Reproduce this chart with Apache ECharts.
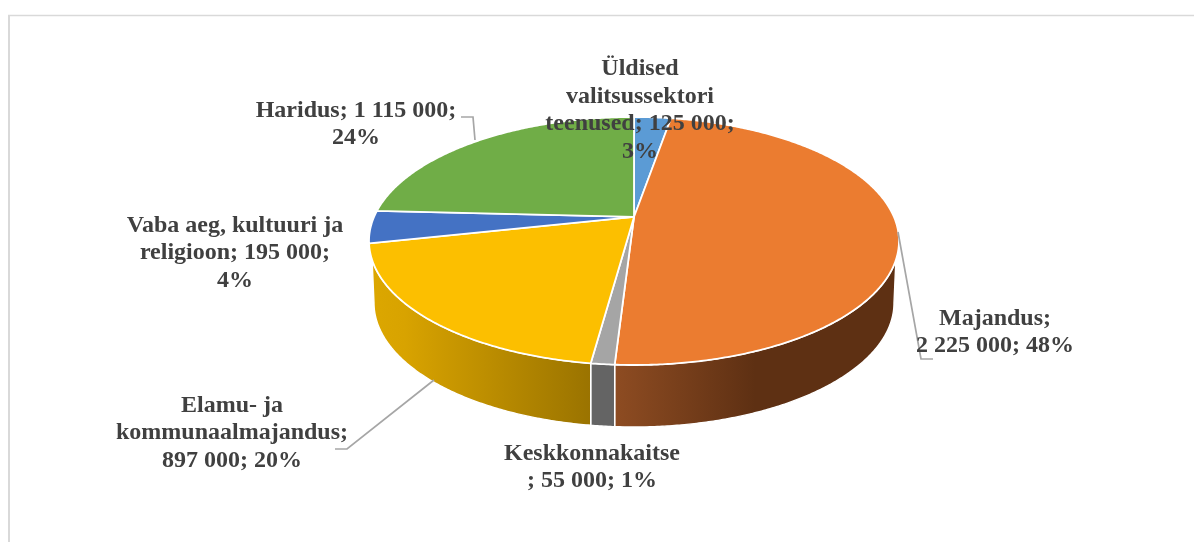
<!DOCTYPE html>
<html>
<head>
<meta charset="utf-8">
<style>html,body{margin:0;padding:0;background:#fff;overflow:hidden}#chart{width:1194px;height:543px}</style>
<script src="https://cdn.jsdelivr.net/npm/echarts@6/dist/echarts.min.js"></script>
</head>
<body>
<div id="chart"></div>
<script>
const categories = ['Üldised valitsussektori teenused','Majandus','Keskkonnakaitse','Elamu- ja kommunaalmajandus','Vaba aeg, kultuuri ja religioon','Haridus'];
const values = [125000, 2225000, 55000, 897000, 195000, 1115000];
const labelTexts = [
  'Üldised\nvalitsussektori\nteenused; 125 000;\n3%',
  'Majandus;\n2 225 000; 48%',
  'Keskkonnakaitse\n; 55 000; 1%',
  'Elamu- ja\nkommunaalmajandus;\n897 000; 20%',
  'Vaba aeg, kultuuri ja\nreligioon; 195 000;\n4%',
  'Haridus; 1 115 000;\n24%'
];
const faceColors = ['#5B9BD5','#EB7C30','#A5A5A5','#FCBF00','#4472C4','#70AD47'];
const wallStops = [
  null,
  [[0,'#8E4C22'],[0.5,'#5E3013'],[1,'#5E3013']],
  [[0,'#646464'],[1,'#646464']],
  [[0,'#DCA700'],[0.15,'#D8A300'],[1,'#9A7300']],
  null,
  null
];
const labelAnchors = [[640,110.5],[995,332.5],[592,467.5],[232,433],[235,253],[356,124.5]];
const leaderLines = [
  null,
  [[898,232],[921,359],[933,359]],
  null,
  [[434,380],[347,449],[335,449]],
  null,
  [[461,117],[473,117],[475,140]]
];

const geom = {cx:634, cy:241, rx:265, ry:124, a:0.194, bottomCy:303, bottomRx:260, bottomRy:124, clip:98.8};
const total = values.reduce((s,v)=>s+v,0);
const rad = Math.PI/180;

// Perspective view of a circle: slice angle -> point on the projected rim
function rim(theta){
  const u=Math.sin(theta), v=Math.cos(theta), d=1+geom.a*v;
  return [u*Math.sqrt(1-geom.a*geom.a)/d, (v+geom.a)/d];
}
function topPoint(theta){
  const r=rim(theta);
  return [geom.cx+geom.rx*r[0], geom.cy-geom.ry*r[1]];
}
function phiOf(theta){
  const r=rim(theta);
  let p=Math.atan2(r[0],r[1]);
  if(p<0)p+=2*Math.PI;
  return p;
}
function sliceRange(i){
  let s=0;
  for(let k=0;k<i;k++)s+=values[k];
  return [s/total*2*Math.PI,(s+values[i])/total*2*Math.PI];
}
function facePoints(i){
  const [a,b]=sliceRange(i);
  const pts=[[geom.cx,geom.cy-geom.ry*geom.a]];
  const n=Math.max(6,Math.ceil((b-a)/(0.5*rad)));
  for(let k=0;k<=n;k++)pts.push(topPoint(a+(b-a)*k/n));
  return pts;
}
function wallPoints(i){
  const [a,b]=sliceRange(i);
  const p0=phiOf(a), p1=b>=2*Math.PI-1e-6?2*Math.PI:phiOf(b);
  const lo=geom.clip*rad, hi=(360-geom.clip)*rad;
  const s=Math.max(p0,lo), e=Math.min(p1,hi);
  if(s>=e)return null;
  const pts=[];
  const n=Math.ceil((e-s)/(0.5*rad));
  for(let k=0;k<=n;k++){
    const p=s+(e-s)*k/n;
    pts.push([geom.cx+geom.rx*Math.sin(p),geom.cy-geom.ry*Math.cos(p)]);
  }
  const bottomAngle=(phi,clipped,side)=>{
    if(clipped)return side;
    const x=geom.rx*Math.sin(phi)/geom.bottomRx;
    return Math.PI-Math.asin(Math.max(-1,Math.min(1,x)));
  };
  const bs=bottomAngle(s,p0<lo,90*rad), be=bottomAngle(e,p1>hi,270*rad);
  for(let k=n;k>=0;k--){
    const p=bs+(be-bs)*k/n;
    pts.push([geom.cx+geom.bottomRx*Math.sin(p),geom.bottomCy-geom.bottomRy*Math.cos(p)]);
  }
  return pts;
}

const seriesData = categories.map((name,i)=>({name,value:values[i]}));
const chart = echarts.init(document.getElementById('chart'),null,{renderer:'canvas'});
chart.setOption({
  animation:false,
  backgroundColor:'#fff',
  graphic:[
    {type:'line',z:0,shape:{x1:9,y1:15,x2:9,y2:542},style:{stroke:'#D9D9D9',lineWidth:2}},
    {type:'line',z:0,shape:{x1:8,y1:15.5,x2:1194,y2:15.5},style:{stroke:'#D9D9D9',lineWidth:1.5}}
  ],
  series:[
    {type:'custom',coordinateSystem:'none',z:2,silent:true,data:seriesData,
     renderItem(params){
       const i=params.dataIndex, pts=wallPoints(i);
       if(!pts||!wallStops[i])return {type:'group',children:[]};
       return {type:'polygon',shape:{points:pts},style:{
         fill:new echarts.graphic.LinearGradient(0,0,1,0,wallStops[i].map(s=>({offset:s[0],color:s[1]}))),
         stroke:'#fff',lineWidth:1.4,lineJoin:'round'}};
     }},
    {type:'custom',coordinateSystem:'none',z:3,silent:true,data:seriesData,
     renderItem(params){
       const i=params.dataIndex;
       return {type:'polygon',shape:{points:facePoints(i)},style:{fill:faceColors[i],stroke:'#fff',lineWidth:1.8,lineJoin:'round'}};
     }},
    {type:'custom',coordinateSystem:'none',z:4,silent:true,data:seriesData,
     renderItem(params){
       const i=params.dataIndex, children=[];
       if(leaderLines[i])children.push({type:'polyline',shape:{points:leaderLines[i]},style:{fill:null,stroke:'#A6A6A6',lineWidth:1.7}});
       children.push({type:'text',style:{x:labelAnchors[i][0],y:labelAnchors[i][1],text:labelTexts[i],
         font:'bold 24px "Liberation Serif"',lineHeight:27.5,fill:'#404040',align:'center',verticalAlign:'middle'}});
       return {type:'group',children};
     }}
  ]
});
</script>
</body>
</html>
